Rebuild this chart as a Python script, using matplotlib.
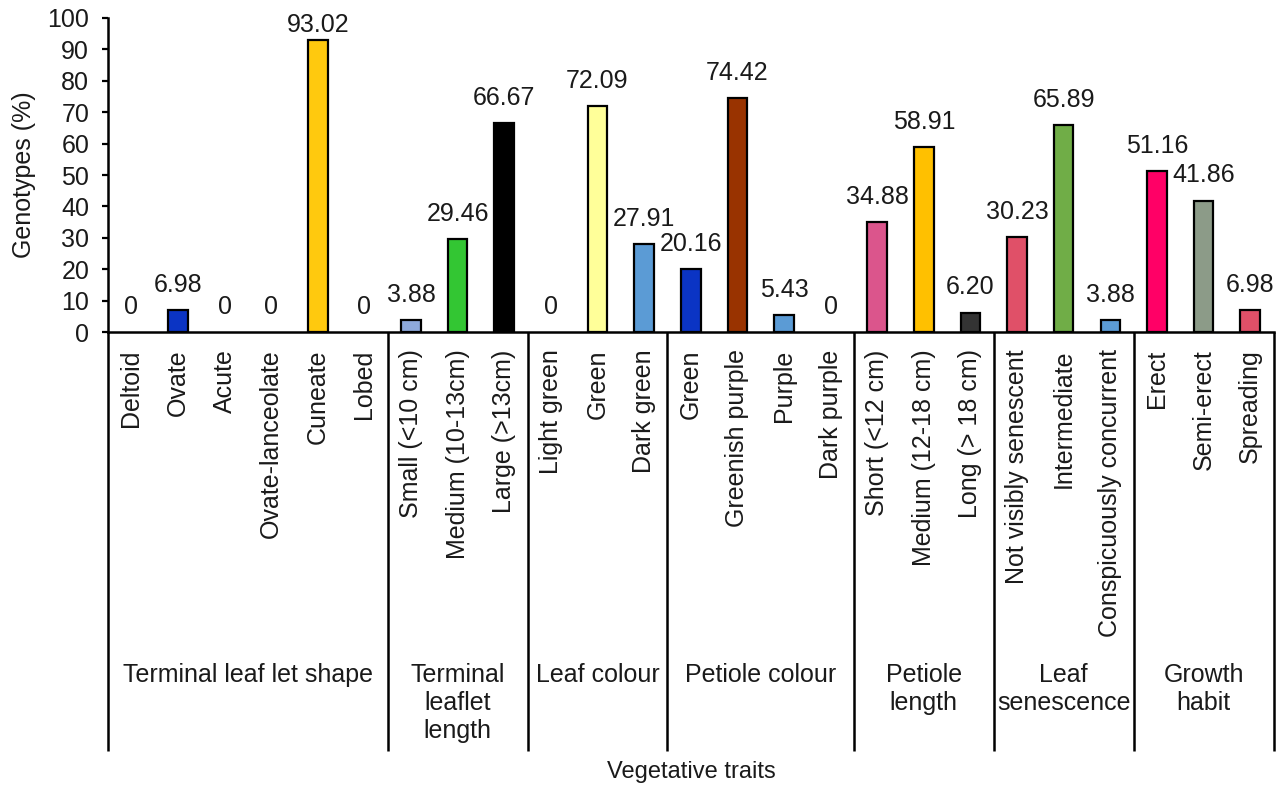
import matplotlib
matplotlib.use("Agg")
import matplotlib.pyplot as plt
import matplotlib.transforms as mtransforms

plt.rcParams['font.family'] = ['Liberation Sans', 'DejaVu Sans']

# Trait groups and the number of states in each
groups = ["Terminal leaf let shape", "Terminal\nleaflet\nlength", "Leaf colour",
          "Petiole colour", "Petiole\nlength", "Leaf\nsenescence", "Growth\nhabit"]
group_sizes = [6, 3, 3, 4, 3, 3, 3]

categories = ["Deltoid", "Ovate", "Acute", "Ovate-lanceolate", "Cuneate", "Lobed",
              "Small (<10 cm)", "Medium (10-13cm)", "Large (>13cm)",
              "Light green", "Green", "Dark green",
              "Green", "Greenish purple", "Purple", "Dark purple",
              "Short (<12 cm)", "Medium (12-18 cm)", "Long (> 18 cm)",
              "Not visibly senescent", "Intermediate", "Conspicuously concurrent",
              "Erect", "Semi-erect", "Spreading"]

values = [0, 6.98, 0, 0, 93.02, 0,
          3.88, 29.46, 66.67,
          0, 72.09, 27.91,
          20.16, 74.42, 5.43, 0,
          34.88, 58.91, 6.20,
          30.23, 65.89, 3.88,
          51.16, 41.86, 6.98]

colors = ["#FFFFFF", "#0B34C4", "#FFFFFF", "#FFFFFF", "#FFC90E", "#FFFFFF",
          "#8EA9DB", "#33C633", "#000000",
          "#FFFFFF", "#FFFF99", "#5B9BD5",
          "#0B34C4", "#993300", "#5B9BD5", "#FFFFFF",
          "#DB558C", "#FFC000", "#333333",
          "#E05068", "#70AD47", "#5B9BD5",
          "#FF0066", "#8C9B88", "#E05068"]

yticks = list(range(0, 101, 10))

FS = 18
TXT = "#1a1a1a"

fig = plt.figure(figsize=(12.79, 7.86), dpi=100)
ax = fig.add_axes([0.0844, 0.5776, 0.9113, 0.3995])

x = list(range(len(categories)))
edge_widths = [1.6 if v > 0 else 0 for v in values]
ax.bar(x, values, width=0.42, color=colors, edgecolor="black",
       linewidth=edge_widths, zorder=3)

# value labels above each bar, kept inside the plotting area
LABEL_GAP = 8.0
LABEL_CEIL = 97.7
for xi, v in zip(x, values):
    txt = "0" if v == 0 else f"{v:.2f}"
    ax.text(xi, min(v + LABEL_GAP, LABEL_CEIL), txt, ha="center", va="center",
            fontsize=FS, color=TXT, clip_on=False, zorder=4)

ax.set_xlim(-0.5, len(categories) - 0.5)
ax.set_ylim(0, 100)
ax.set_yticks(yticks)
ax.set_yticklabels([str(t) for t in yticks], fontsize=FS, color=TXT)
ax.tick_params(axis="y", direction="out", length=4, width=1.6, pad=9.5)

ax.set_xticks(x)
ax.set_xticklabels(categories, rotation=90, fontsize=FS, color=TXT,
                   va="top", ha="center")
ax.tick_params(axis="x", length=0, pad=12.5)

for side in ("top", "right"):
    ax.spines[side].set_visible(False)
ax.spines["left"].set_linewidth(1.8)
ax.spines["bottom"].set_linewidth(1.8)

ax.set_ylabel("Genotypes (%)", fontsize=FS, color=TXT)
ax.yaxis.set_label_coords(-0.0615, 0.5)

# group separators and group names beneath the category labels
trans = mtransforms.blended_transform_factory(ax.transData, ax.transAxes)
bounds = [-0.5]
for n in group_sizes:
    bounds.append(bounds[-1] + n)
for b in bounds:
    ax.plot([b, b], [0, -1.334], transform=trans, color="black", lw=1.8,
            clip_on=False, solid_capstyle="butt", zorder=5)
for name, lo, hi in zip(groups, bounds[:-1], bounds[1:]):
    ax.text((lo + hi) / 2, -1.054, name, transform=trans, ha="center", va="top",
            fontsize=FS, color=TXT, linespacing=1.2, clip_on=False)

fig.text(0.5403, 0.018, "Vegetative traits", ha="center", va="center",
         fontsize=17, color=TXT)

fig.savefig("out.png", dpi=100, facecolor="white")
